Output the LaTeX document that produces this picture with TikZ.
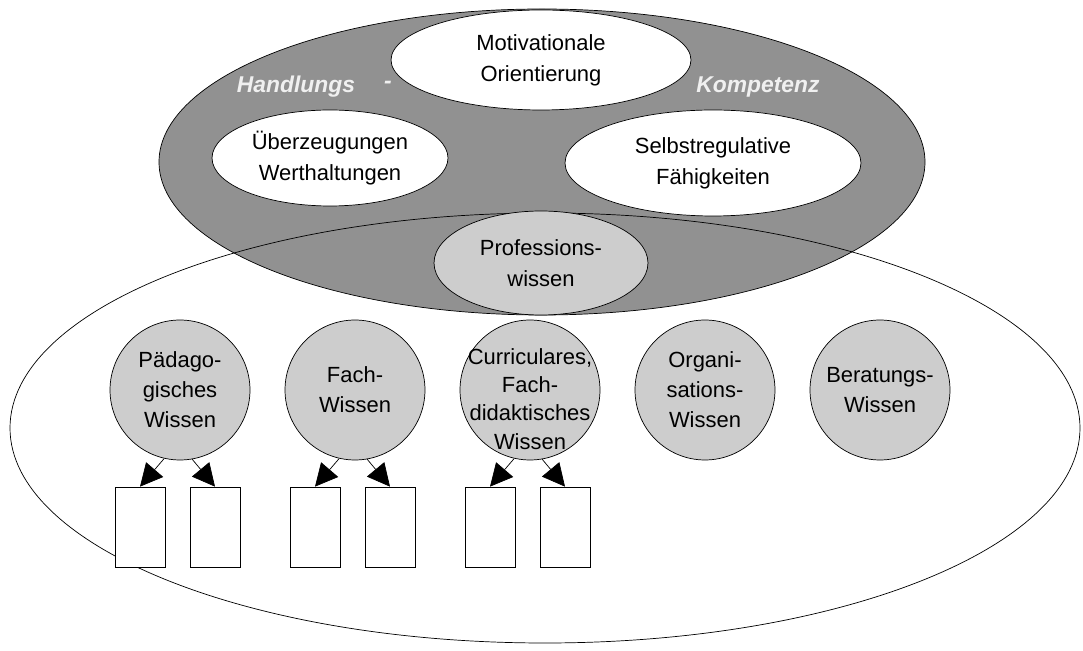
\documentclass[tikz,border=0pt]{standalone}
\usepackage{fontspec}
\setmainfont{Liberation Sans}
\usetikzlibrary{shapes.geometric,arrows.meta}
\definecolor{kompgrau}{RGB}{145,145,145}
\definecolor{wissgrau}{RGB}{205,205,205}
\tikzset{
  oval/.style={ellipse, draw, fill=white, inner sep=0pt, align=center, font=\fontsize{12.5}{17.5}\selectfont},
  kreis/.style={circle, draw, fill=wissgrau, inner sep=0pt, minimum size=2.8cm, align=center, font=\fontsize{12.5}{17}\selectfont},
  blatt/.style={rectangle, draw, fill=white, minimum width=1cm, minimum height=1.6cm},
  pfeil/.style={-{Triangle[length=0.45cm,width=0.45cm]}},
  titel/.style={text=white!94!black, font=\fontsize{13}{16}\selectfont\bfseries\itshape}
}
\begin{document}
\begin{tikzpicture}[x=0.02cm, y=-0.02cm]
  \useasboundingbox (0,0) rectangle (1083,651);

  % grosse Ellipse und Handlungskompetenz
  \fill[white] (545,428) ellipse (535 and 215);
  \filldraw[fill=kompgrau] (542,162) ellipse (383 and 153);
  \draw (545,428) ellipse (535 and 215);

  \node[titel] (hand) at (296,87) {Handlungs};
  \node[titel] (strich) at (388,85) {-};
  \node[titel] (komp) at (758,87) {Kompetenz};

  \node[oval, minimum width=6cm, minimum height=2cm] (motiv) at (541,60) {Motivationale\\Orientierung};
  \node[oval, minimum width=4.72cm, minimum height=1.92cm] (ueber) at (330,158) {Überzeugungen\\Werthaltungen};
  \node[oval, minimum width=5.92cm, minimum height=2.12cm] (selbst) at (713,163) {Selbstregulative\\Fähigkeiten};
  \node[oval, fill=wissgrau, minimum width=4.28cm, minimum height=2.08cm] (prof) at (541,263) {Professions-\\wissen};

  % Wissensbereiche
  \node[kreis] (paed) at (180,390) {Pädago-\\gisches\\Wissen};
  \node[kreis] (fach) at (355,390) {Fach-\\Wissen};
  \node[kreis] (curr) at (530,390) {};
  \node[align=center, font=\fontsize{12.5}{16}\selectfont] (currtext) at (530,399) {Curriculares,\\Fach-\\didaktisches\\Wissen};
  \node[kreis] (orga) at (705,390) {Organi-\\sations-\\Wissen};
  \node[kreis] (bera) at (880,390) {Beratungs-\\Wissen};

  \node[blatt] (b1) at (140,527) {};
  \node[blatt] (b2) at (215,527) {};
  \node[blatt] (b3) at (315,527) {};
  \node[blatt] (b4) at (390,527) {};
  \node[blatt] (b5) at (490,527) {};
  \node[blatt] (b6) at (565,527) {};

  \draw[pfeil] (paed.-103) -- (b1.north);
  \draw[pfeil] (paed.-80) -- (b2.north);
  \draw[pfeil] (fach.-103) -- (b3.north);
  \draw[pfeil] (fach.-80) -- (b4.north);
  \draw[pfeil] (curr.-103) -- (b5.north);
  \draw[pfeil] (curr.-80) -- (b6.north);
\end{tikzpicture}
\end{document}
